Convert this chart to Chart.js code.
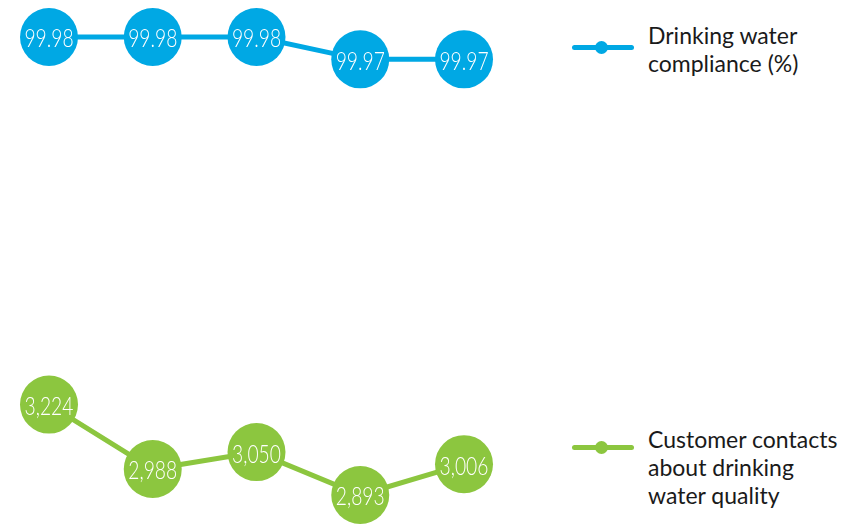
<!DOCTYPE html>
<html>
<head>
<meta charset="utf-8">
<script src="https://cdn.jsdelivr.net/npm/chart.js@4"></script>
<style>
  html, body { margin: 0; padding: 0; background: #fff; }
  #wrap { position: relative; width: 859px; height: 524px; overflow: hidden; }
  #chart { position: absolute; left: 0; top: 0; }
  .legend-item { position: absolute; left: 572px; font-family: Lato, sans-serif; font-size: 23px; line-height: 28px; color: #1a1a1a; }
  .legend-item .mark { position: absolute; left: 0; width: 62px; height: 5px; border-radius: 3px; }
  .legend-item .mark::after { content: ''; position: absolute; left: 23px; top: -4px; width: 13px; height: 13px; border-radius: 50%; background: inherit; }
  .legend-item .text { margin-left: 76px; white-space: nowrap; }
</style>
</head>
<body>
<div id="wrap">
  <canvas id="chart" width="520" height="524"></canvas>
  <div class="legend-item" id="leg-compliance" style="top:21px;">
    <div class="mark" style="top:24px;background:#00a8e4;"></div>
    <div class="text">Drinking water<br>compliance (%)</div>
  </div>
  <div class="legend-item" id="leg-contacts" style="top:425px;">
    <div class="mark" style="top:20px;background:#8cc63f;"></div>
    <div class="text">Customer contacts<br>about drinking<br>water quality</div>
  </div>
</div>
<script>
// years are not shown in the picture, just five points per series
const periods = ['1', '2', '3', '4', '5'];
const compliance = [99.98, 99.98, 99.98, 99.97, 99.97];
const contacts = [3224, 2988, 3050, 2893, 3006];

const BLUE = '#00a8e4';
const GREEN = '#8cc63f';

const fmtCompliance = (v) => v.toFixed(2);
const fmtContacts = (v) => v.toLocaleString('en-GB');

// white value text in the middle of each bubble, squeezed to look condensed
const bubbleLabels = {
  id: 'bubbleLabels',
  afterDatasetsDraw(chart) {
    const ctx = chart.ctx;
    chart.data.datasets.forEach((ds, i) => {
      const meta = chart.getDatasetMeta(i);
      meta.data.forEach((pt, j) => {
        ctx.save();
        ctx.fillStyle = '#fff';
        ctx.font = '300 26px Lato, sans-serif';
        ctx.textAlign = 'center';
        ctx.textBaseline = 'middle';
        ctx.translate(pt.x, pt.y + 2);
        ctx.scale(0.74, 1);
        ctx.fillText(ds.fmt(ds.data[j]), 0, 0);
        ctx.restore();
      });
    });
  }
};

new Chart(document.getElementById('chart'), {
  type: 'line',
  data: {
    labels: periods,
    datasets: [
      {
        label: 'Drinking water compliance (%)',
        data: compliance,
        yAxisID: 'yComp',
        borderColor: BLUE,
        backgroundColor: BLUE,
        borderWidth: 5,
        pointRadius: 29,
        pointHoverRadius: 29,
        pointBorderWidth: 0,
        tension: 0,
        clip: false,
        fmt: fmtCompliance,
      },
      {
        label: 'Customer contacts about drinking water quality',
        data: contacts,
        yAxisID: 'yCont',
        borderColor: GREEN,
        backgroundColor: GREEN,
        borderWidth: 5,
        pointRadius: 29,
        pointHoverRadius: 29,
        pointBorderWidth: 0,
        tension: 0,
        clip: false,
        fmt: fmtContacts,
      },
    ],
  },
  options: {
    responsive: false,
    devicePixelRatio: 1,
    animation: false,
    events: [],
    layout: { padding: { left: 49, right: 56, top: 37, bottom: 26 } },
    plugins: {
      legend: { display: false },
      tooltip: { enabled: false },
    },
    scales: {
      x: { display: false, offset: false },
      yComp: { display: false, position: 'left', min: 99.775, max: 99.98 },
      yCont: { display: false, position: 'right', min: 2893, max: 4570 },
    },
  },
  plugins: [bubbleLabels],
});
</script>
</body>
</html>
